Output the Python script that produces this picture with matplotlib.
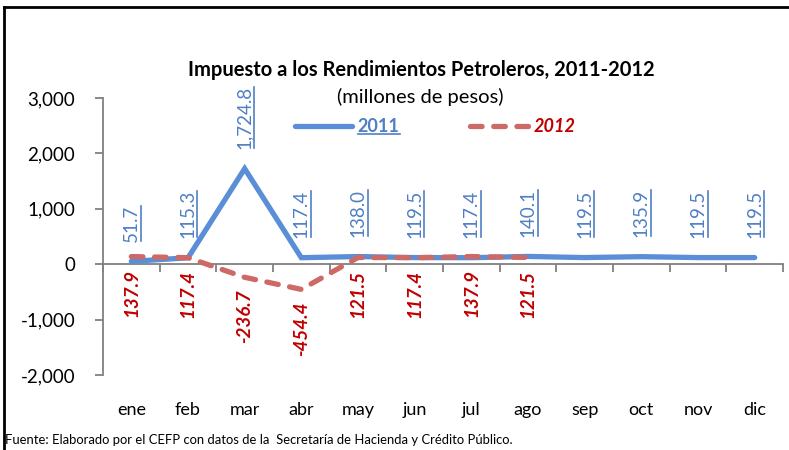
import matplotlib
matplotlib.use("Agg")
from matplotlib import pyplot as plt
from matplotlib.lines import Line2D

months = ["ene", "feb", "mar", "abr", "may", "jun", "jul", "ago", "sep", "oct", "nov", "dic"]
v2011 = [51.7, 115.3, 1724.8, 117.4, 138.0, 119.5, 117.4, 140.1, 119.5, 135.9, 119.5, 119.5]
v2012 = [137.9, 117.4, -236.7, -454.4, 121.5, 117.4, 137.9, 121.5]
yticks = [-2000, -1000, 0, 1000, 2000, 3000]

blue = "#5A8ED6"
blue_lbl = "#4F7FC4"
red = "#CD6966"
red_lbl = "#C00000"

plt.rcParams['font.family'] = ['Lato', 'DejaVu Sans']

fig = plt.figure(figsize=(7.89, 4.5), dpi=100)
ax = fig.add_axes([103 / 789, 1 - 375 / 450, 680 / 789, 277 / 450])

x11 = list(range(len(v2011)))
x12 = list(range(len(v2012)))
ax.plot(x11, v2011, color=blue, lw=3.8, solid_capstyle='round', solid_joinstyle='miter', label="2011", zorder=3)
ax.plot(x12, v2012, color=red, lw=3.8, ls=(0, (2.2, 2.2)), dash_capstyle='round', label="2012", zorder=4)

ax.set_xlim(-0.5, 11.5)
ax.set_ylim(-2000, 3000)
ax.set_yticks(yticks)
ax.set_yticklabels([f"{t:,}" for t in yticks], fontsize=13.5)
ax.tick_params(axis='y', length=6, color='#808080', width=1.3, pad=14)

ax.spines['top'].set_visible(False)
ax.spines['right'].set_visible(False)
ax.spines['left'].set_color('#808080')
ax.spines['left'].set_linewidth(1.3)
ax.spines['bottom'].set_position(('data', 0))
ax.spines['bottom'].set_color('#808080')
ax.spines['bottom'].set_linewidth(1.3)
ax.set_xticks([i + 0.5 for i in range(-1, 12)])
ax.set_xticklabels([])
ax.tick_params(axis='x', length=6, color='#808080', width=1.3)

for i, m in enumerate(months):
    ax.text(i, -2630, m, ha='center', va='center', fontsize=13)

lbl11 = []
for i, v in enumerate(v2011):
    t = ax.annotate(f"{v:,.1f}", (i, v), xytext=(0, 14), textcoords='offset points',
                    rotation=90, ha='center', va='bottom', fontsize=13.5, color=blue_lbl)
    lbl11.append(t)
for i, v in enumerate(v2012):
    ax.annotate(f"{v:,.1f}", (i, v), xytext=(0, -9), textcoords='offset points',
                rotation=90, ha='center', va='top', fontsize=13.5, color=red_lbl,
                fontweight='bold', fontstyle='italic')

leg = ax.legend(loc='center', bbox_to_anchor=(435 / 789, 1 - 127 / 450), bbox_transform=fig.transFigure,
                ncol=2, frameon=False, handlelength=3.2, columnspacing=3.9, handletextpad=0.3, fontsize=13)
lt = leg.get_texts()
lt[0].set_color(blue_lbl)
lt[0].set_fontweight('bold')
lt[1].set_color(red_lbl)
lt[1].set_fontweight('bold')
lt[1].set_fontstyle('italic')

fig.text(421 / 789, 1 - 70 / 450, "Impuesto a los Rendimientos Petroleros, 2011-2012",
         ha='center', va='center', fontsize=14.5, fontweight='bold')
fig.text(420 / 789, 1 - 97 / 450, "(millones de pesos)", ha='center', va='center', fontsize=14.5)
fig.text(5 / 789, 1 - 440 / 450, "Fuente: Elaborado por el CEFP con datos de la  Secretaría de Hacienda y Crédito Público.",
         ha='left', va='center', fontsize=9.4)

# outer frame lines
fig.add_artist(Line2D([4 / 789, 1], [1 - 7 / 450, 1 - 7 / 450], transform=fig.transFigure, color='black', lw=2))
fig.add_artist(Line2D([4 / 789, 4 / 789], [0, 1 - 7 / 450], transform=fig.transFigure, color='black', lw=2))

# underline the 2011 labels (rotated, so the line sits on the right)
fig.canvas.draw()
r = fig.canvas.get_renderer()
inv = fig.transFigure.inverted()
for t in lbl11:
    bb = t.get_window_extent(r)
    (x0, y0), (x1, y1) = inv.transform([(bb.x1 + 1, bb.y0 + 1), (bb.x1 + 1, bb.y1 - 1)])
    fig.add_artist(Line2D([x0, x1], [y0, y1], transform=fig.transFigure, color=blue_lbl, lw=1.2))
bb = lt[0].get_window_extent(r)
(x0, y0), (x1, y1) = inv.transform([(bb.x0, bb.y0 + 1), (bb.x1, bb.y0 + 1)])
fig.add_artist(Line2D([x0, x1], [y0, y1], transform=fig.transFigure, color=blue_lbl, lw=1.2))

fig.savefig("out.png", dpi=100)
